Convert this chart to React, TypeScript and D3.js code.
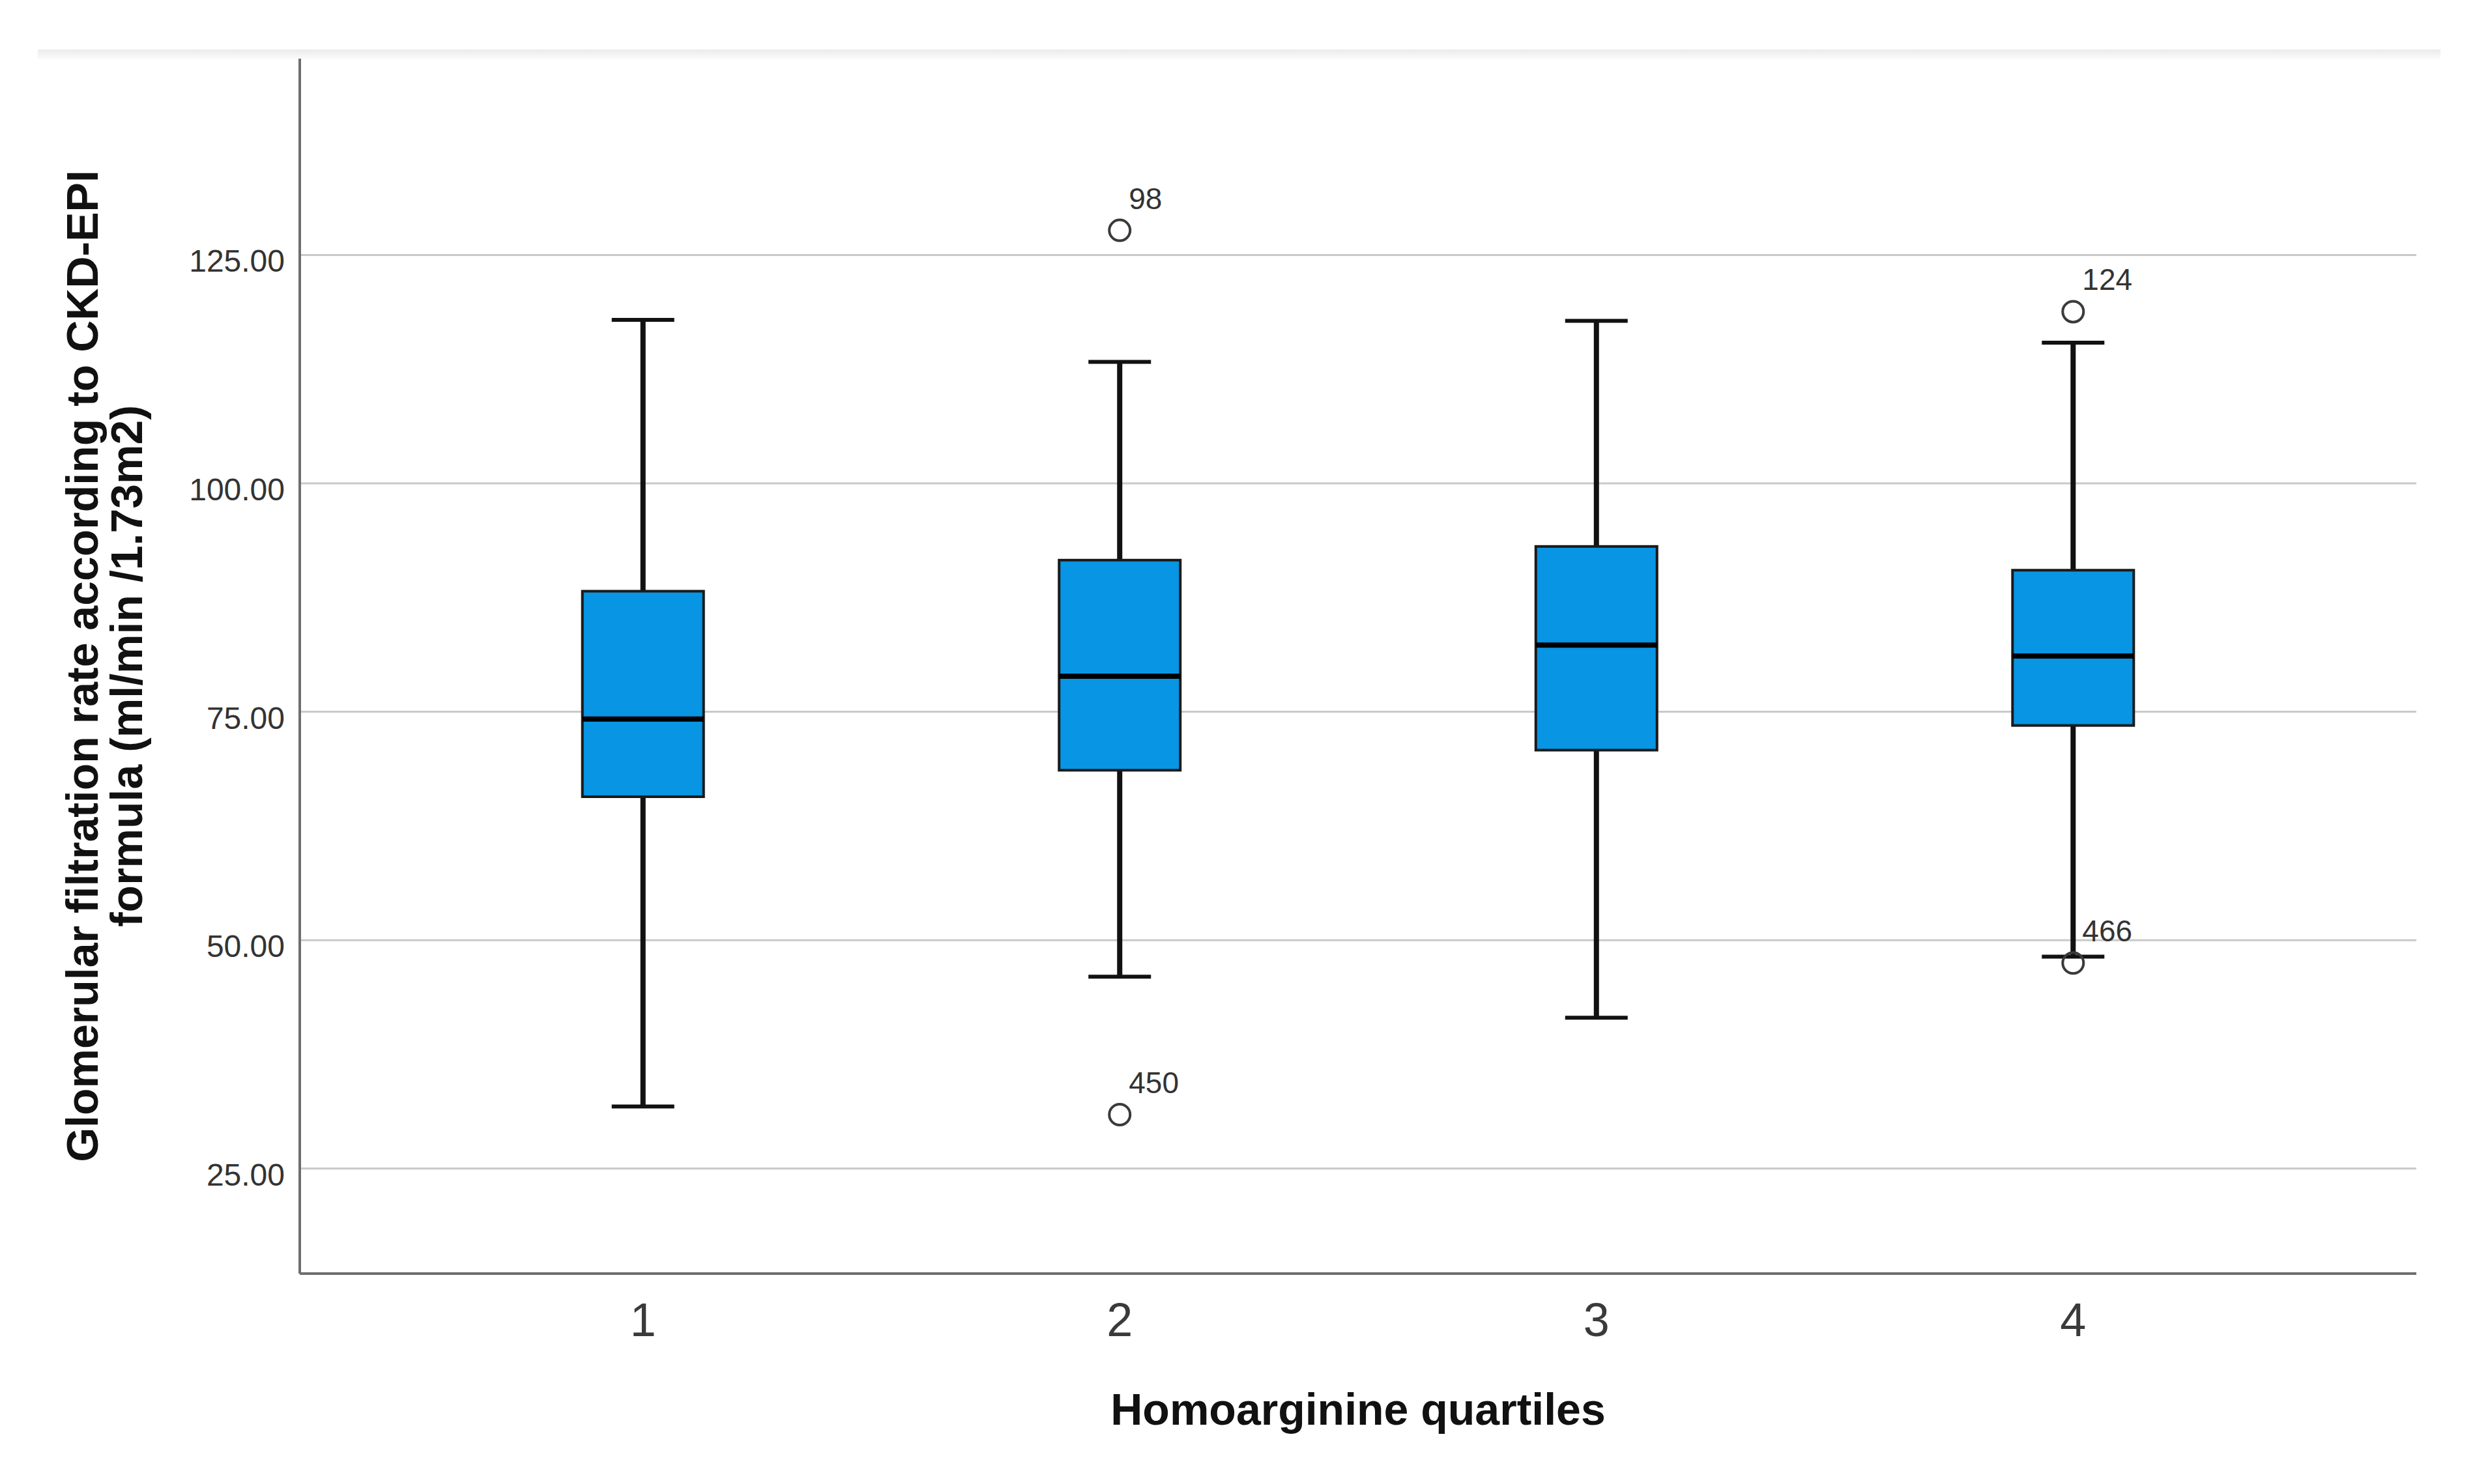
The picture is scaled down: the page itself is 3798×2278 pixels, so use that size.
import React from "react";
import * as d3 from "d3";

const categories = ["1", "2", "3", "4"];
const whiskerLow = [31.8, 46.0, 41.5, 48.2];
const q1 = [65.7, 68.6, 70.8, 73.5];
const median = [74.2, 78.9, 82.3, 81.1];
const q3 = [88.2, 91.6, 93.1, 90.5];
const whiskerHigh = [117.9, 113.3, 117.8, 115.4];
const outliers = [
  { cat: "2", value: 127.7, label: "98" },
  { cat: "2", value: 30.9, label: "450" },
  { cat: "4", value: 118.8, label: "124" },
  { cat: "4", value: 47.5, label: "466" },
];
const yTicks = [25, 50, 75, 100, 125];
const yTitleLines = ["Glomerular filtration rate according to CKD-EPI", "formula (ml/min /1.73m2)"];
const xTitle = "Homoarginine quartiles";

const W = 3798;
const H = 2278;
const plot = { left: 460, right: 3708, top: 90, bottom: 1955 };
const FONT = "'Liberation Sans', Arial, Helvetica, sans-serif";

export default function App() {
  const x = d3.scalePoint<string>().domain(categories).range([plot.left, plot.right]).padding(0.72);
  const y = d3.scaleLinear().domain([13.5, 146.5]).range([plot.bottom, plot.top]);
  const boxW = 186;
  const capW = 96;
  const fmt = d3.format(".2f");

  return (
    <svg
      width={W}
      height={H}
      viewBox={`0 0 ${W} ${H}`}
      style={{ position: "absolute", left: 0, top: 0, display: "block", background: "#fff" }}
    >
      <defs>
        <linearGradient id="topband" x1="0" y1="0" x2="0" y2="1">
          <stop offset="0" stopColor="#ebebeb" />
          <stop offset="1" stopColor="#fbfbfb" />
        </linearGradient>
      </defs>
      <rect x={0} y={0} width={W} height={H} fill="#fff" />
      <rect x={58} y={76} width={3687} height={15} fill="url(#topband)" />

      {/* gridlines */}
      {yTicks.map((t) => (
        <line key={"g" + t} x1={plot.left} x2={plot.right} y1={y(t)} y2={y(t)} stroke="#c9c9c9" strokeWidth={3} />
      ))}

      {/* y tick labels */}
      {yTicks.map((t) => (
        <text
          key={"yt" + t}
          x={437}
          y={y(t) + 26}
          textAnchor="end"
          fontFamily={FONT}
          fontSize={48}
          fill="#333"
        >
          {fmt(t)}
        </text>
      ))}

      {/* boxes */}
      {categories.map((c, i) => {
        const cx = x(c) as number;
        return (
          <g key={"b" + c}>
            <line x1={cx} x2={cx} y1={y(whiskerHigh[i])} y2={y(q3[i])} stroke="#111" strokeWidth={8} />
            <line x1={cx} x2={cx} y1={y(q1[i])} y2={y(whiskerLow[i])} stroke="#111" strokeWidth={8} />
            <line x1={cx - capW / 2} x2={cx + capW / 2} y1={y(whiskerHigh[i])} y2={y(whiskerHigh[i])} stroke="#111" strokeWidth={6} />
            <line x1={cx - capW / 2} x2={cx + capW / 2} y1={y(whiskerLow[i])} y2={y(whiskerLow[i])} stroke="#111" strokeWidth={6} />
            <rect
              x={cx - boxW / 2}
              y={y(q3[i])}
              width={boxW}
              height={y(q1[i]) - y(q3[i])}
              fill="#0795e4"
              stroke="#1a1a1a"
              strokeWidth={4}
            />
            <line x1={cx - boxW / 2} x2={cx + boxW / 2} y1={y(median[i])} y2={y(median[i])} stroke="#000" strokeWidth={8} />
          </g>
        );
      })}

      {/* outliers */}
      {outliers.map((o) => {
        const cx = x(o.cat) as number;
        const cy = y(o.value);
        return (
          <g key={"o" + o.label}>
            <circle cx={cx} cy={cy} r={16} fill="none" stroke="#3a3a3a" strokeWidth={4} />
            <text x={cx + 14} y={cy - 33} fontFamily={FONT} fontSize={46} fill="#333">
              {o.label}
            </text>
          </g>
        );
      })}

      {/* axes */}
      <line x1={plot.left} x2={plot.left} y1={plot.top} y2={plot.bottom} stroke="#6e6e6e" strokeWidth={4} />
      <line x1={plot.left} x2={plot.right} y1={plot.bottom} y2={plot.bottom} stroke="#6e6e6e" strokeWidth={4} />

      {/* x tick labels */}
      {categories.map((c) => (
        <text
          key={"xt" + c}
          x={x(c) as number}
          y={2051}
          textAnchor="middle"
          fontFamily={FONT}
          fontSize={72}
          fill="#3a3a3a"
        >
          {c}
        </text>
      ))}

      {/* axis titles */}
      <text
        x={(plot.left + plot.right) / 2}
        y={2187}
        textAnchor="middle"
        fontFamily={FONT}
        fontSize={68}
        fontWeight="bold"
        fill="#111"
      >
        {xTitle}
      </text>
      {yTitleLines.map((line, i) => (
        <text
          key={"yl" + i}
          transform={`translate(${150 + i * 68}, ${(plot.top + plot.bottom) / 2}) rotate(-90)`}
          textAnchor="middle"
          fontFamily={FONT}
          fontSize={68}
          fontWeight="bold"
          fill="#111"
        >
          {line}
        </text>
      ))}
    </svg>
  );
}
